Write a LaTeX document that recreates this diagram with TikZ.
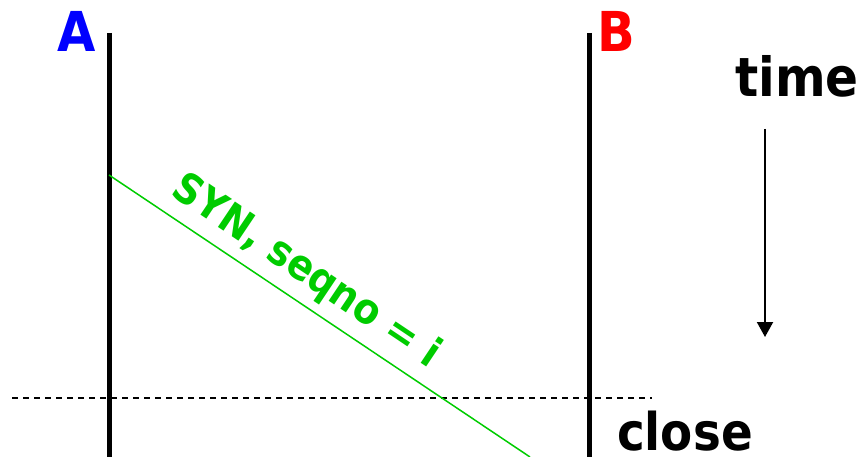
\documentclass[tikz,border=0pt]{standalone}
\usepackage{fontspec}
\usepackage{tikz}
\usetikzlibrary{arrows.meta,positioning}
\newfontfamily\labelfont{DejaVu Sans Condensed Bold}
\definecolor{hostA}{HTML}{0000FF}
\definecolor{hostB}{HTML}{FF0000}
\definecolor{syn}{HTML}{00CC00}

\begin{document}
\begin{tikzpicture}[x=1pt,y=-1pt,
    lifeline/.style={line width=5pt},
    hostlbl/.style={font=\labelfont\fontsize{55}{55}\selectfont,anchor=base,inner sep=0pt}]
  \useasboundingbox (0,0) rectangle (862,457);
  % hosts
  \coordinate (atop) at (109,33);
  \coordinate (abot) at (109,457);
  \coordinate (btop) at (589,33);
  \coordinate (bbot) at (589,457);
  \node[hostlbl,text=hostA] (labA) at (77,52) {A};
  \node[hostlbl,text=hostB] (labB) at (616,52) {B};
  \draw[lifeline] (atop) -- (abot);
  \draw[lifeline] (btop) -- (bbot);
  % time axis
  \node[hostlbl,font=\labelfont\fontsize{54}{54}\selectfont] (time) at (797,97) {time};
  \coordinate (tstart) at (765,129);
  \coordinate (tend) at (765,337);
  \draw[line width=2pt,-{Triangle[length=15pt,width=16pt]}] (tstart) -- (tend);
  % close marker
  \coordinate (cleft) at (12,398);
  \coordinate (cright) at (652,398);
  \draw[line width=1.5pt,dash pattern=on 6pt off 5pt] (cleft) -- (cright);
  \node[hostlbl,font=\labelfont\fontsize{52}{52}\selectfont] (close) at (685,450) {close};
  % SYN segment
  \coordinate (synfrom) at (109,175);
  \coordinate (synto) at (530,457);
  \draw[syn,line width=1.5pt] (synfrom) -- node[sloped,pos=0.43,above=8pt,inner sep=0pt,
      text=syn,font=\labelfont\fontsize{42}{42}\selectfont] (synlbl) {SYN, seqno = i} (synto);
\end{tikzpicture}
\end{document}
